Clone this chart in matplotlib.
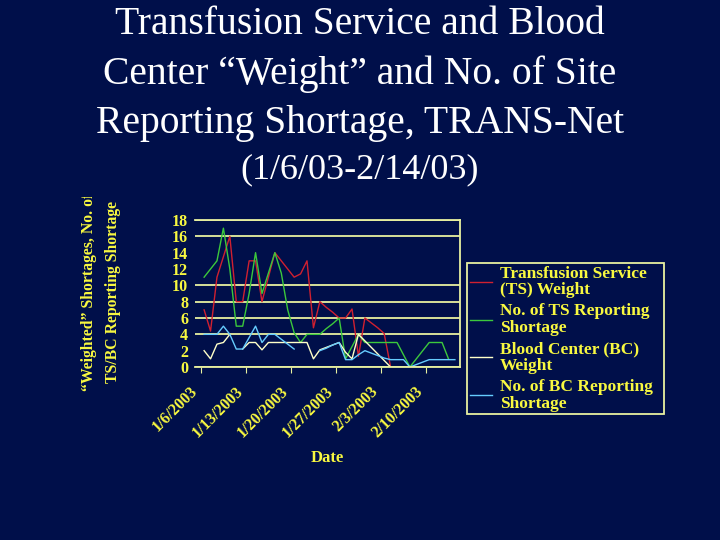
import numpy as np
import pandas as pd
import matplotlib
matplotlib.use("Agg")
import matplotlib.pyplot as plt
from matplotlib.ticker import FuncFormatter
import matplotlib.dates as mdates
import matplotlib.transforms as mtransforms

nan = np.nan

# one value per day, 1/6/2003 .. 2/14/2003
dates = pd.date_range("2003-01-06", "2003-02-14", freq="D")

ts_weight = [7, 4.4, 11, 13.5, 16, 8, 8, 13, 13, 8,
             11, 14, 13, 12, 11, 11.4, 13, 4.8, 8, 7.3,
             6.7, 6, 6, 7.1, 1.3, 6, 5.4, 4.8, 4.1, 0,
             nan, nan, nan, nan, nan, nan, nan, nan, nan, nan]
ts_count = [11, 12, 13, 17, 12, 5, 5, 9, 14, 9,
            11.5, 14, 11.5, 7, 4.2, 3, 4, 4, 4, 4.7,
            5.3, 6, 1, 2.5, 4, 3, 3, 3, 3, 3,
            3, 1.5, 0, 1, 2, 3, 3, 3, 1, nan]
bc_weight = [2, 1, 2.8, 3, 4, nan, 2.2, 3, 3, 2.1,
             3, 3, 3, 3, 3, 3, 3, 1, 2.1, 2.4,
             2.7, 3, 1.8, 1, 4, 3.2, 2.4, 1.6, 0.8, 0,
             nan, nan, nan, nan, nan, nan, nan, nan, nan, nan]
bc_count = [4, 4, 4, 5, 4, 2.2, 2.2, 3.6, 5, 3,
            4, 4, 3.4, 2.8, 2.2, nan, nan, nan, 2, 2.3,
            2.7, 3, 0.9, 0.9, 1.5, 2, 1.7, 1.4, 1.1, 0.9,
            0.9, 0.9, 0, 0.3, 0.6, 0.9, 0.9, 0.9, 0.9, 0.9]

labels = ["Transfusion Service\n(TS) Weight",
          "No. of TS Reporting\nShortage",
          "Blood Center (BC)\nWeight",
          "No. of BC Reporting\nShortage"]
colors = ["#d02030", "#3cc83c", "#ffffc8", "#66ccff"]

navy = "#000f4a"
pale = "#e8f0a0"
yellow = "#f8f840"
serif = "Liberation Serif"

fig = plt.figure(figsize=(7.2, 5.4), dpi=100, facecolor=navy)

# title
title_lines = ["Transfusion Service and Blood",
               "Center \u201cWeight\u201d and No. of Site",
               "Reporting Shortage, TRANS-Net"]
for i, line in enumerate(title_lines):
    fig.text(0.5, 1 - (24 + 50 * i) / 540, line, ha="center", va="center",
             color="white", family=serif, fontsize=28.5)
fig.text(0.5, 1 - 170 / 540, "(1/6/03-2/14/03)", ha="center", va="center",
         color="white", family=serif, fontsize=26)

ax = fig.add_axes([195 / 720, 1 - 367 / 540, 265 / 720, 147 / 540])
ax.set_facecolor(navy)

x = dates + pd.Timedelta(hours=12)
for vals, lab, col in zip([ts_weight, ts_count, bc_weight, bc_count], labels, colors):
    ax.plot(x, vals, color=col, lw=1.0, label=lab)

ax.set_ylim(0, 18)
ax.set_yticks(range(0, 19, 2))
ax.set_xlim(pd.Timestamp("2003-01-05 02:00"), pd.Timestamp("2003-02-15 07:00"))
ax.set_xticks(pd.date_range("2003-01-06", periods=6, freq="7D"))
ax.xaxis.set_major_formatter(FuncFormatter(
    lambda v, pos: "{0.month}/{0.day}/{0.year}".format(mdates.num2date(v))))

ax.yaxis.grid(True, color=pale, lw=1.3)
# the gridlines at 2, 12 and 14 do not show in the source slide
for gl, v in zip(ax.get_ygridlines(), range(0, 19, 2)):
    if v in (2, 12, 14):
        gl.set_visible(False)
ax.set_axisbelow(True)

ax.spines["left"].set_visible(False)
for side in ["top", "right", "bottom"]:
    ax.spines[side].set_color(pale)
    ax.spines[side].set_linewidth(1.3)

ax.tick_params(axis="y", length=0, pad=5, labelcolor=yellow)
ax.tick_params(axis="x", length=4, color=pale, pad=8, labelcolor=yellow)
for t in ax.get_yticklabels():
    t.set_fontfamily(serif)
    t.set_fontweight("bold")
    t.set_fontsize(11.5)
shift = mtransforms.ScaledTranslation(-11 / 100, 0, fig.dpi_scale_trans)
for t in ax.get_xticklabels():
    t.set_fontfamily(serif)
    t.set_fontweight("bold")
    t.set_fontsize(11.5)
    t.set_rotation(45)
    t.set_ha("right")
    t.set_va("top")
    t.set_rotation_mode("anchor")
    t.set_transform(t.get_transform() + shift)

ax.set_xlabel("Date", color=yellow, family=serif, fontweight="bold", fontsize=12)
ax.xaxis.set_label_coords(0.5, (367 - 450) / 147)

# y label, first line is cut off at the top of the chart object
ax_lab = fig.add_axes([60 / 720, 1 - 420 / 540, 70 / 720, (420 - 197) / 540])
ax_lab.axis("off")
ax_lab.set_xlim(60, 130)
ax_lab.set_ylim(420, 197)
ylab_lines = ["\u201cWeighted\u201d Shortages, No. of", "TS/BC Reporting Shortage"]
for line, xc in zip(ylab_lines, [89, 113]):
    ax_lab.text(xc, 292, line, rotation=90, ha="center", va="center",
                color=yellow, family=serif, fontweight="bold", fontsize=11.3,
                clip_on=True)

leg = ax.legend(loc="upper left",
                bbox_to_anchor=(467 / 720, 1 - 412 / 540, 197 / 720, 149 / 540),
                bbox_transform=fig.transFigure, borderaxespad=0, mode="expand",
                frameon=True, fancybox=False, facecolor=navy, edgecolor=pale,
                framealpha=1, handlelength=1.3, handletextpad=0.45,
                borderpad=0.15, labelspacing=0.3,
                prop={"family": serif, "weight": "bold", "size": 12.5})
leg.get_frame().set_linewidth(1.3)
for t in leg.get_texts():
    t.set_color(yellow)
    t.set_linespacing(1.05)

fig.savefig("out.png", dpi=100, facecolor=navy)
